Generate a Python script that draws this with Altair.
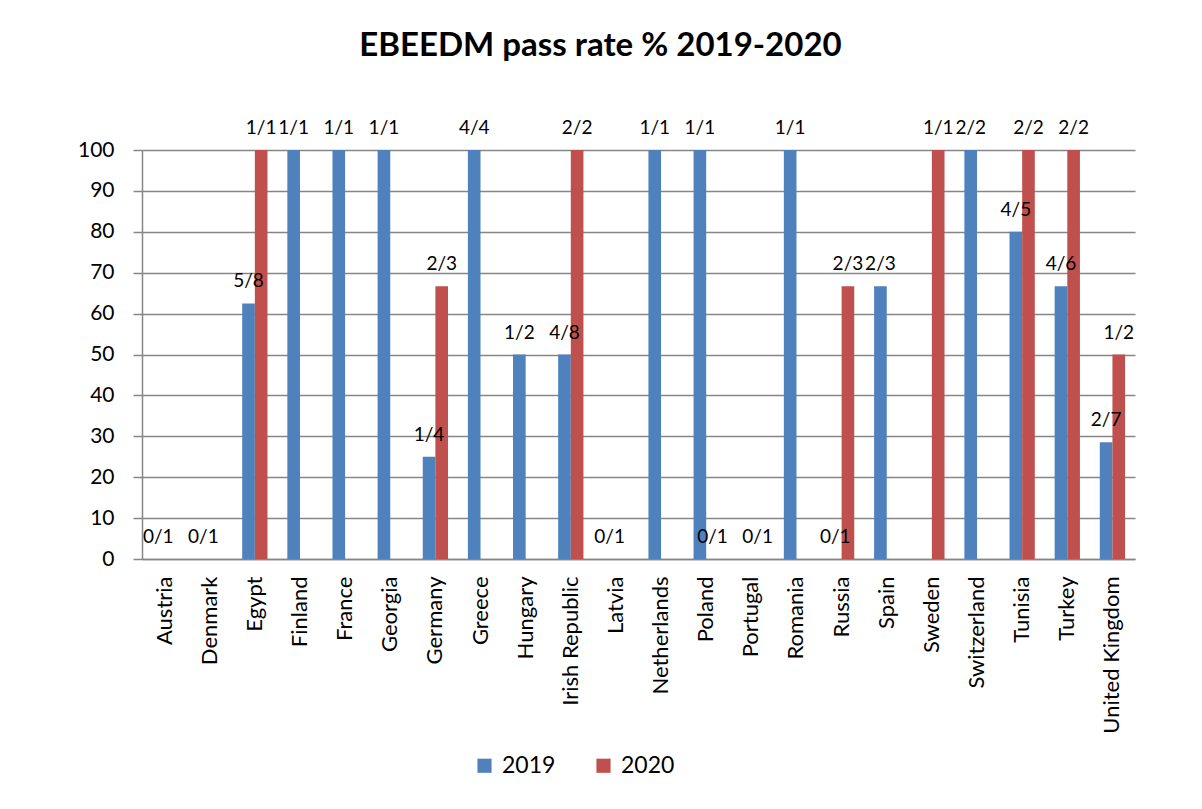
import altair as alt
import pandas as pd

countries = ["Austria", "Denmark", "Egypt", "Finland", "France", "Georgia", "Germany",
             "Greece", "Hungary", "Irish Republic", "Latvia", "Netherlands", "Poland",
             "Portugal", "Romania", "Russia", "Spain", "Sweden", "Switzerland", "Tunisia",
             "Turkey", "United Kingdom"]
years = ["2019", "2020"]
values_2019 = [0, 0, 62.5, 100, 100, 100, 25, 100, 50, 50, 0, 100, 100, None, 100, 0,
               66.67, None, 100, 80, 66.67, 28.57]
values_2020 = [None, None, 100, None, None, None, 66.67, None, None, 100, None, None, 0, 0,
               None, 66.67, None, 100, None, 100, 100, 50]
labels_2019 = ["0/1", "0/1", "5/8", "1/1", "1/1", "1/1", "1/4", "4/4", "1/2", "4/8", "0/1",
               "1/1", "1/1", None, "1/1", "0/1", "2/3", None, "2/2", "4/5", "4/6", "2/7"]
labels_2020 = [None, None, "1/1", None, None, None, "2/3", None, None, "2/2", None, None,
               "0/1", "0/1", None, "2/3", None, "1/1", None, "2/2", "2/2", "1/2"]
colors = ["#4F81BD", "#C0504D"]

rows = []
for yr, vals, labs in [("2019", values_2019, labels_2019), ("2020", values_2020, labels_2020)]:
    for c, v, l in zip(countries, vals, labs):
        if v is not None:
            rows.append({"country": c, "year": yr, "value": v, "label": l})
df = pd.DataFrame(rows)

FONT = "Lato"

x = alt.X("country:N", sort=countries, title=None,
          scale=alt.Scale(paddingInner=0.44, paddingOuter=0.22),
          axis=alt.Axis(labelAngle=-90, ticks=False, labelPadding=17, labelFontSize=22,
                        labelColor="black", domainColor="#868686", domainWidth=1.5,
                        labelFont=FONT, grid=False))
xo = alt.XOffset("year:N", scale=alt.Scale(domain=years, paddingInner=0, paddingOuter=0))
y = alt.Y("value:Q", title=None,
          scale=alt.Scale(domain=[0, 100], nice=False),
          axis=alt.Axis(values=list(range(0, 101, 10)), tickSize=9, tickColor="#868686",
                        tickWidth=1.5, labelPadding=19, labelFontSize=21, labelColor="black",
                        labelFont=FONT, domainColor="#868686", domainWidth=1.5,
                        gridColor="#868686", gridWidth=1.5))

base = alt.Chart(df)

bars = base.mark_bar().encode(
    x=x, xOffset=xo, y=y,
    color=alt.Color("year:N", scale=alt.Scale(domain=years, range=colors),
                    legend=alt.Legend(title=None, orient="none", direction="horizontal",
                                      legendX=331, legendY=604, symbolType="square",
                                      symbolSize=200, symbolStrokeWidth=0, labelFontSize=23,
                                      labelFont=FONT, labelColor="black", columnPadding=36,
                                      labelOffset=6, padding=0))
)

texts = base.mark_text(baseline="alphabetic", dy=-16, fontSize=19, font=FONT,
                       color="black").encode(
    x=x, xOffset=xo, y=y, text="label:N"
)

chart = alt.layer(bars, texts).properties(
    width=993, height=409,
    title=alt.TitleParams("EBEEDM pass rate % 2019-2020", fontSize=33, font=FONT,
                          fontWeight="bold", color="black", anchor="middle", dx=-38,
                          offset=56),
    autosize=alt.AutoSizeParams(type="none"),
    padding={"left": 134, "top": 142, "right": 50, "bottom": 240},
).configure_view(stroke=None)

chart.save("out.html", embed_options={"renderer": "svg", "actions": False})
